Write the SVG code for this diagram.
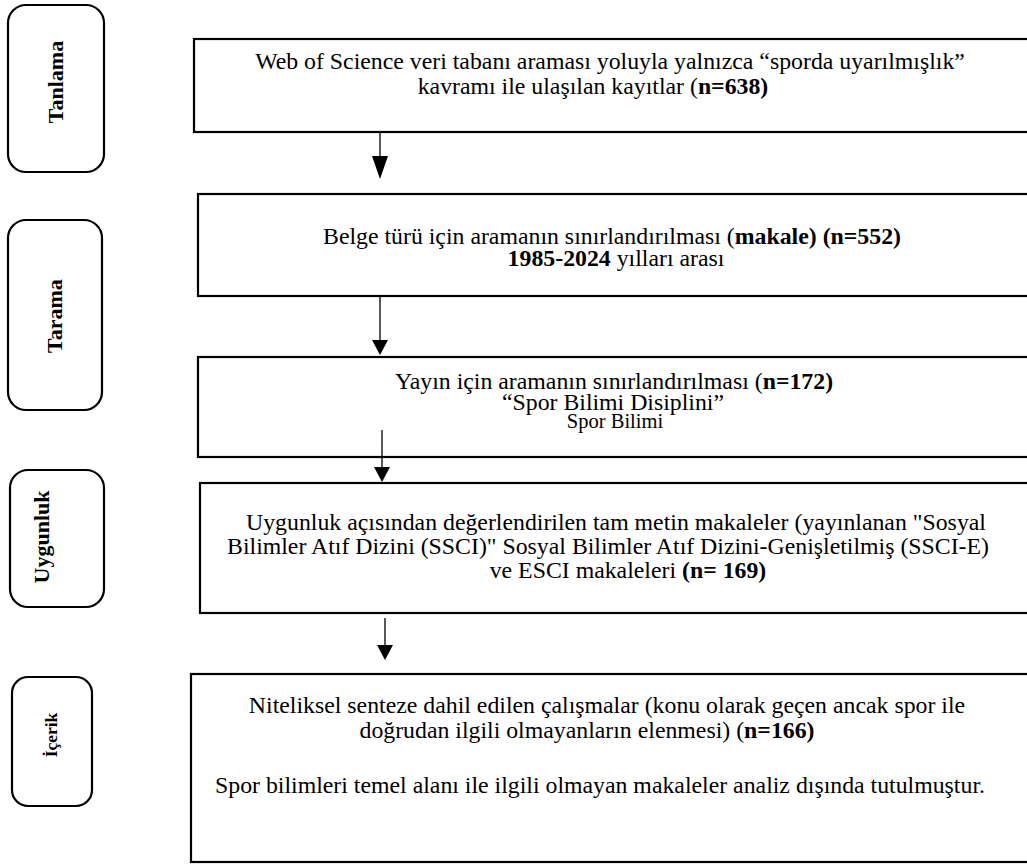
<svg xmlns="http://www.w3.org/2000/svg" width="1027" height="867" viewBox="0 0 1027 867">
<style>
.box{fill:#fff;stroke:#000;stroke-width:2.2}
.lab{fill:#fff;stroke:#000;stroke-width:2.2}
.t{font-family:"Liberation Serif","Times New Roman",serif;font-size:23.8px;fill:#000;text-anchor:middle}
.s{font-size:20.5px}
.b{font-weight:bold}
.lt{font-family:"Liberation Serif","Times New Roman",serif;font-size:22px;font-weight:bold;fill:#000;text-anchor:middle}
.ln{stroke:#000;stroke-width:1.3;fill:none}
.ah{fill:#000}
</style>
<rect width="1027" height="867" fill="#fff"/>
<g id="lab-tanlama">
<rect class="lab" x="8" y="5" width="96" height="167" rx="18"/>
<text class="lt" transform="translate(63,82) rotate(-90)">Tanlama</text>
</g>
<g id="lab-tarama">
<rect class="lab" x="8" y="220" width="94" height="190" rx="18"/>
<text class="lt" transform="translate(62,316) rotate(-90)">Tarama</text>
</g>
<g id="lab-uygunluk">
<rect class="lab" x="10" y="470" width="94" height="137" rx="18"/>
<text class="lt" transform="translate(49,537) rotate(-90)">Uygunluk</text>
</g>
<g id="lab-icerik">
<rect class="lab" x="12" y="677" width="80" height="129" rx="16"/>
<text class="lt" style="font-size:17.5px" transform="translate(57,735) rotate(-90)">İçerik</text>
</g>
<g id="box1">
<rect class="box" x="194" y="39" width="840" height="93"/>
<text class="t" x="610" y="69">Web of Science veri tabanı araması yoluyla yalnızca “sporda uyarılmışlık”</text>
<text class="t" x="593" y="94">kavramı ile ulaşılan kayıtlar (<tspan class="b">n=638)</tspan></text>
</g>
<g id="box2">
<rect class="box" x="198" y="194" width="836" height="102"/>
<text class="t" x="612" y="244">Belge türü için aramanın sınırlandırılması (<tspan class="b">makale) (n=552)</tspan></text>
<text class="t" x="616" y="266"><tspan class="b">1985-2024</tspan> yılları arası</text>
</g>
<g id="box3">
<rect class="box" x="198" y="357" width="836" height="100"/>
<text class="t" x="614" y="389">Yayın için aramanın sınırlandırılması (<tspan class="b">n=172)</tspan></text>
<text class="t" x="613" y="410">“Spor Bilimi Disiplini”</text>
<text class="t s" x="615" y="428">Spor Bilimi</text>
</g>
<g id="box4">
<rect class="box" x="200" y="483" width="834" height="130"/>
<text class="t" x="616" y="530">Uygunluk açısından değerlendirilen tam metin makaleler (yayınlanan "Sosyal</text>
<text class="t" x="608" y="554">Bilimler Atıf Dizini (SSCI)" Sosyal Bilimler Atıf Dizini-Genişletilmiş (SSCI-E)</text>
<text class="t" x="628" y="578">ve ESCI makaleleri <tspan class="b">(n= 169)</tspan></text>
</g>
<g id="box5">
<rect class="box" x="191" y="674" width="843" height="188"/>
<text class="t" x="607" y="713">Niteliksel senteze dahil edilen çalışmalar (konu olarak geçen ancak spor ile</text>
<text class="t" x="587" y="738">doğrudan ilgili olmayanların elenmesi) (<tspan class="b">n=166)</tspan></text>
<text class="t" x="600" y="793">Spor bilimleri temel alanı ile ilgili olmayan makaleler analiz dışında tutulmuştur.</text>
</g>
<g id="connectors">
<line class="ln" x1="380" y1="133" x2="380" y2="158"/>
<polygon class="ah" points="372,156 388,156 380,179"/>
<line class="ln" x1="380" y1="297" x2="380" y2="342"/>
<polygon class="ah" points="372,340 388,340 380,355"/>
<line class="ln" x1="382" y1="430" x2="382" y2="469"/>
<polygon class="ah" points="374,467 390,467 382,482"/>
<line class="ln" x1="385" y1="618" x2="385" y2="647"/>
<polygon class="ah" points="377,645 393,645 385,660"/>
</g>
</svg>
